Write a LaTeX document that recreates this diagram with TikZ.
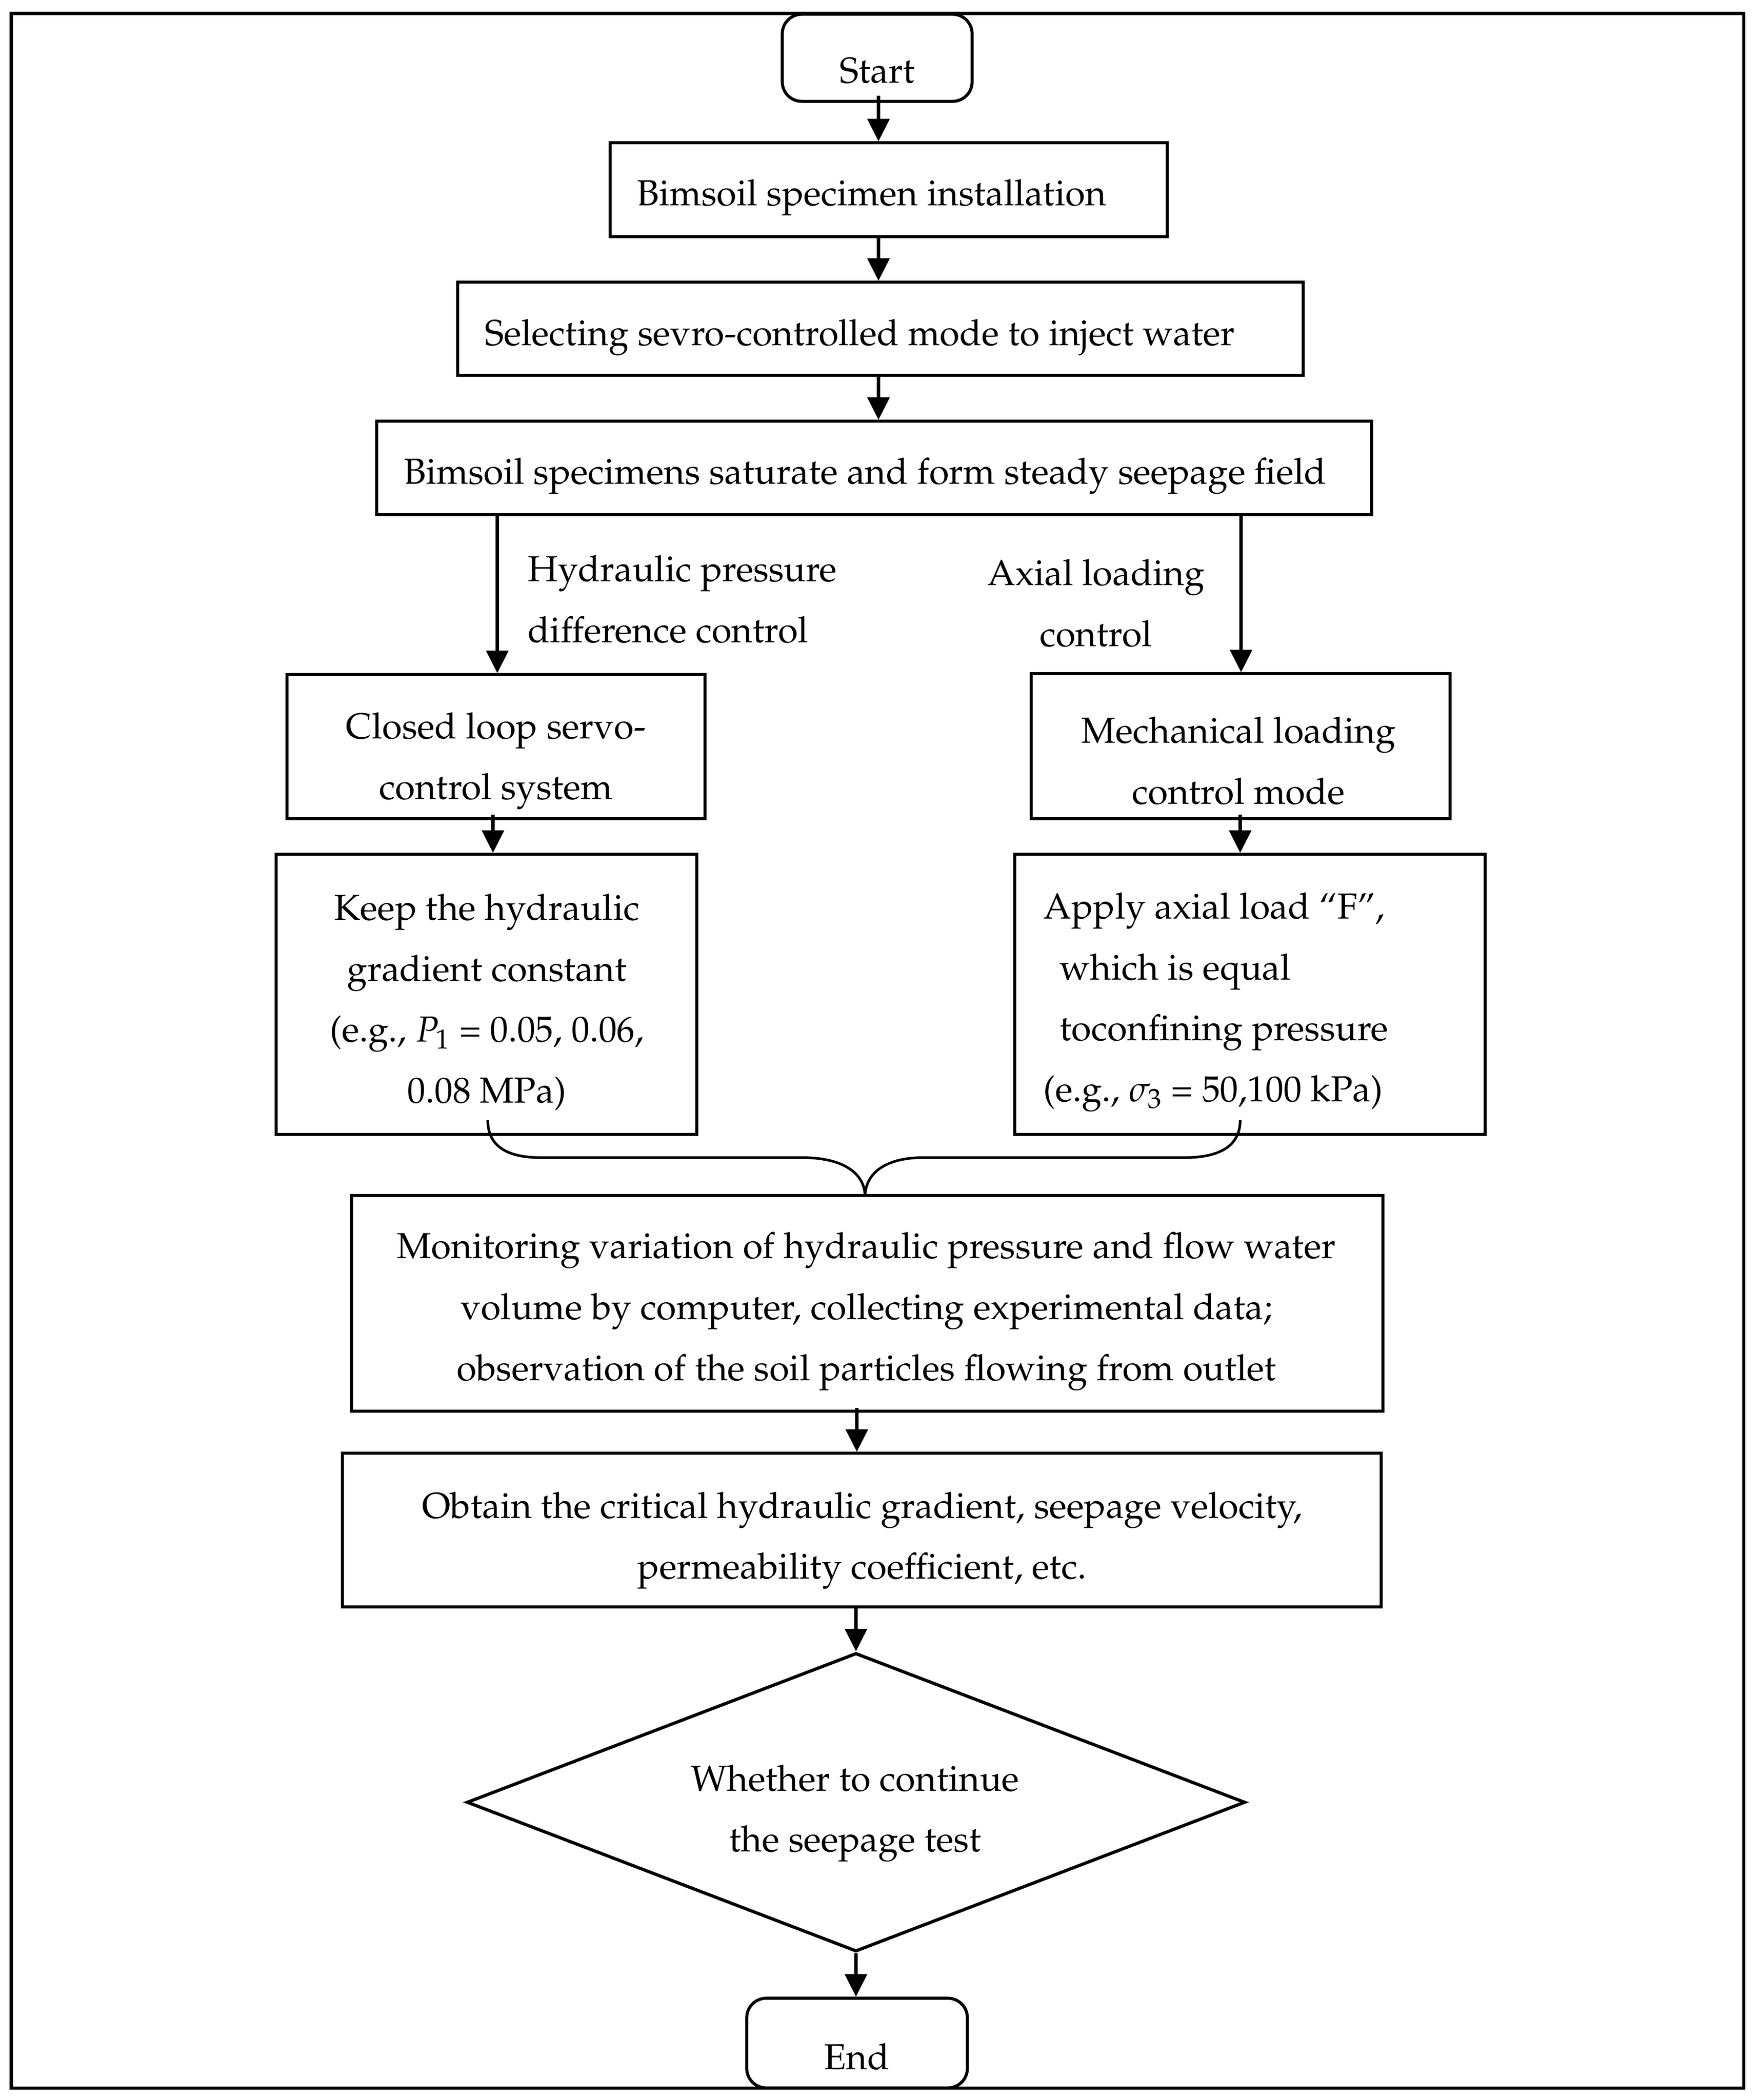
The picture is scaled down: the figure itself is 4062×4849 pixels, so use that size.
\documentclass[tikz,border=0pt]{standalone}
\usepackage[T1]{fontenc}
\usepackage{mathpazo}
\usetikzlibrary{shapes.geometric,arrows.meta}
\begin{document}
\begin{tikzpicture}[x=0.01cm,y=-0.01cm,
  box/.style={draw,line width=2pt,inner sep=0pt},
  term/.style={box,rounded corners=0.45cm},
  dec/.style={draw,line width=2.1pt,inner sep=0pt,diamond},
  txt/.style={font=\fontsize{23.75}{40}\selectfont,align=center,inner sep=0pt},
  arr/.style={line width=2.5pt,-{Triangle[length=0.52cm,width=0.5cm]}}]
\useasboundingbox (0,0) rectangle (4062,4849);

% boxes
\node[term,minimum width=4.38cm,minimum height=2.01cm] (start) at (2025,133.5) {};
\node[box,minimum width=12.85cm,minimum height=2.16cm] (b1) at (2051.5,438) {};
\node[box,minimum width=19.51cm,minimum height=2.14cm] (b2) at (2032.5,759) {};
\node[box,minimum width=22.96cm,minimum height=2.15cm] (b3) at (2018,1080.5) {};
\node[box,minimum width=9.64cm,minimum height=3.32cm] (L1) at (1145,1724) {};
\node[box,minimum width=9.66cm,minimum height=3.34cm] (R1) at (2864,1723) {};
\node[box,minimum width=9.70cm,minimum height=6.46cm] (L2) at (1123,2296) {};
\node[box,minimum width=10.85cm,minimum height=6.46cm] (R2) at (2885.5,2296) {};
\node[box,minimum width=23.80cm,minimum height=4.97cm] (M) at (2002,3009.5) {};
\node[box,minimum width=23.97cm,minimum height=3.54cm] (O) at (1989.5,3533) {};
\node[dec,minimum width=17.96cm,minimum height=6.89cm] (D) at (1976,4161.5) {};
\node[term,minimum width=5.09cm,minimum height=2.07cm] (E) at (1978.5,4717.5) {};

% texts
\node[txt] (tstart) at (2025,163) {Start};
\node[txt] (t1) at (2012,456) {Bimsoil specimen installation};
\node[txt] (t2) at (1985,779) {Selecting sevro-controlled mode to inject water};
\node[txt] (t3) at (1997,1099) {Bimsoil specimens saturate and form steady seepage field};
\node[txt,align=left,anchor=west] (th) at (1218,1384) {Hydraulic pressure\\difference control};
\node[txt] (ta) at (2530,1393) {Axial loading\\control};
\node[txt] (tL1) at (1145,1757) {Closed loop servo-\\control system};
\node[txt] (tR1) at (2859,1757) {Mechanical loading\\control mode};
\node[txt] (tL2) at (1124,2314) {Keep the hydraulic\\gradient constant\\(e.g., $P_1$ = 0.05, 0.06,\\0.08 MPa)};
\node[txt,align=left,anchor=west] (tR2) at (2408,2314) {Apply axial load ``F'',\\\hspace*{0.38cm}which is equal\\\hspace*{0.38cm}toconfining pressure\\(e.g., $\sigma_3$ = 50,100 kPa)};
\node[txt] (tM) at (2000,3028) {Monitoring variation of hydraulic pressure and flow water\\volume by computer, collecting experimental data;\\observation of the soil particles flowing from outlet};
\node[txt] (tO) at (1990,3557) {Obtain the critical hydraulic gradient, seepage velocity,\\permeability coefficient, etc.};
\node[txt] (tD) at (1974,4187) {Whether to continue\\the seepage test};
\node[txt] (tE) at (1978,4748) {End};

% column coordinates
\coordinate (cx) at (2028,0);
\coordinate (lx) at (1148,0);
\coordinate (rx) at (2865,0);
\coordinate (l2x) at (1138,0);
\coordinate (r2x) at (2863,0);
\coordinate (mx) at (1978,0);

% connectors
\draw[arr] ([yshift=0.17cm]start.south -| cx) -- (b1.north -| cx);
\draw[arr] (b1.south -| cx) -- (b2.north -| cx);
\draw[arr] (b2.south -| cx) -- (b3.north -| cx);
\draw[arr] (b3.south -| lx) -- (L1.north -| lx);
\draw[arr] (b3.south -| rx) -- (R1.north -| rx);
\draw[arr] ([yshift=0.13cm]L1.south -| l2x) -- (L2.north -| l2x);
\draw[arr] ([yshift=0.13cm]R1.south -| r2x) -- (R2.north -| r2x);
\draw[arr] ([yshift=0.11cm]M.south -| mx) -- (O.north -| mx);
\draw[arr] (O.south -| D.north) -- (D.north);
\draw[arr] (D.south) -- (D.south |- E.north);

% brace
\coordinate (bL) at (1126,2586);
\coordinate (bR) at (2863,2586);
\coordinate (tip) at (1997,2764);
\draw[line width=1.7pt] (bL) .. controls (1126,2650) and (1175,2673) .. (1250,2673)
  -- (1853,2673) .. controls (1940,2673) and (1997,2705) .. (tip)
  .. controls (1997,2705) and (2050,2673) .. (2130,2673)
  -- (2733,2673) .. controls (2810,2673) and (2863,2650) .. (bR);

% frame
\draw[line width=2pt] (26,31) rectangle (4025,4821);
\end{tikzpicture}
\end{document}
